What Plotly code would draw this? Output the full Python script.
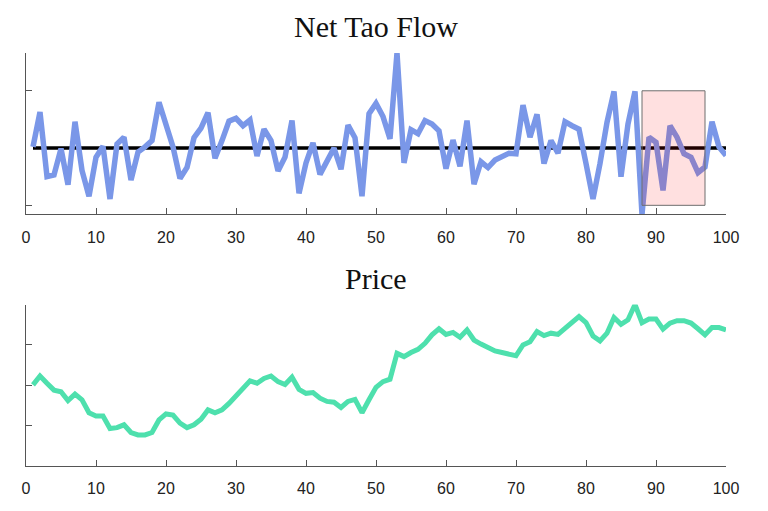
import plotly.graph_objects as go
from plotly.subplots import make_subplots

# 数据
steps = list(range(1, 101))

net_flow = [
    0.02, 0.63, -0.50, -0.47, -0.01, -0.64, 0.46, -0.39, -0.84, -0.16,
    0.03, -0.89, 0.07, 0.19, -0.56, -0.07, 0.02, 0.13, 0.80, 0.42,
    0.02, -0.53, -0.34, 0.18, 0.35, 0.62, -0.18, 0.13, 0.47, 0.52,
    0.39, 0.49, -0.14, 0.33, 0.13, -0.40, -0.16, 0.48, -0.79, -0.26,
    0.09, -0.46, -0.21, 0.00, -0.37, 0.40, 0.18, -0.84, 0.60, 0.78,
    0.55, 0.16, 1.66, -0.26, 0.32, 0.25, 0.48, 0.42, 0.30, -0.36,
    0.14, -0.32, 0.48, -0.63, -0.24, -0.34, -0.21, -0.14, -0.09, -0.10,
    0.75, 0.19, 0.59, -0.27, 0.13, -0.09, 0.46, 0.39, 0.33, -0.27,
    -0.89, -0.27, 0.45, 0.99, -0.50, 0.42, 0.99, -1.16, 0.19, 0.10,
    -0.74, 0.39, 0.19, -0.10, -0.16, -0.43, -0.33, 0.46, 0.02, -0.13,
]

price = [
    2.01, 2.23, 2.05, 1.88, 1.84, 1.62, 1.78, 1.64, 1.32, 1.24,
    1.24, 0.93, 0.95, 1.02, 0.83, 0.77, 0.77, 0.83, 1.14, 1.29,
    1.26, 1.06, 0.95, 1.02, 1.16, 1.39, 1.32, 1.39, 1.55, 1.74,
    1.90, 2.11, 2.05, 2.17, 2.23, 2.09, 2.02, 2.20, 1.90, 1.80,
    1.82, 1.68, 1.60, 1.58, 1.45, 1.60, 1.65, 1.32, 1.64, 1.95,
    2.09, 2.15, 2.79, 2.71, 2.81, 2.89, 3.04, 3.25, 3.40, 3.26,
    3.31, 3.19, 3.37, 3.12, 3.02, 2.92, 2.85, 2.81, 2.78, 2.73,
    3.00, 3.08, 3.33, 3.23, 3.29, 3.26, 3.41, 3.55, 3.70, 3.55,
    3.22, 3.10, 3.29, 3.68, 3.51, 3.62, 4.00, 3.55, 3.64, 3.64,
    3.39, 3.54, 3.60, 3.60, 3.54, 3.40, 3.25, 3.43, 3.43, 3.37,
]

x_ticks = [0, 10, 20, 30, 40, 50, 60, 70, 80, 90, 100]
flow_ticks = [-1, 1]
price_ticks = [1, 2, 3, 4]

# 高亮区间
box_x = [88, 97]
box_y = [-1, 1]

fig = make_subplots(rows=2, cols=1, vertical_spacing=0.218)

fig.add_trace(go.Scatter(
    x=[steps[0], steps[-1]], y=[0, 0], mode='lines',
    line=dict(color='black', width=3.5)
), row=1, col=1)

fig.add_trace(go.Scatter(
    x=steps, y=net_flow, mode='lines',
    line=dict(color='#7a97e8', width=5.5)
), row=1, col=1)

fig.add_trace(go.Scatter(
    x=steps, y=price, mode='lines',
    line=dict(color='#4ee0ad', width=5)
), row=2, col=1)

fig.add_shape(
    type="rect", xref="x", yref="y",
    x0=box_x[0], x1=box_x[1], y0=box_y[0], y1=box_y[1],
    line=dict(color="#6e6e6e", width=1),
    fillcolor="rgba(255,0,0,0.12)",
    layer="above"
)

axis_style = dict(
    showgrid=False, zeroline=False, showline=True,
    linecolor='#555555', linewidth=1,
    ticks='inside', ticklen=6, tickcolor='#555555',
)

fig.update_xaxes(range=[0, 100], tickvals=x_ticks, ticklabelstandoff=8,
                 tickfont=dict(family='Liberation Sans', size=16, color='#222222'),
                 **axis_style)
fig.update_yaxes(showticklabels=False, **axis_style)
fig.update_yaxes(range=[min(net_flow), max(net_flow)], tickvals=flow_ticks, row=1, col=1)
fig.update_yaxes(range=[0, 4], tickvals=price_ticks, row=2, col=1)

# 页面 body 自带 8px 边距, 这里把尺寸减掉
title_font = dict(family='Liberation Serif', size=30, color='#111111')
fig.add_annotation(text="Net Tao Flow", x=0.5, y=1.0, xref='paper', yref='paper',
                   yanchor='middle', yshift=27, showarrow=False, font=title_font)
fig.add_annotation(text="Price", x=0.5, y=0.39, xref='paper', yref='paper',
                   yanchor='middle', yshift=26, showarrow=False, font=title_font)

fig.update_layout(
    width=760, height=503,
    margin=dict(l=18, r=42, t=45, b=45),
    plot_bgcolor='white', paper_bgcolor='white',
    showlegend=False,
)

fig.write_html("out.html")
